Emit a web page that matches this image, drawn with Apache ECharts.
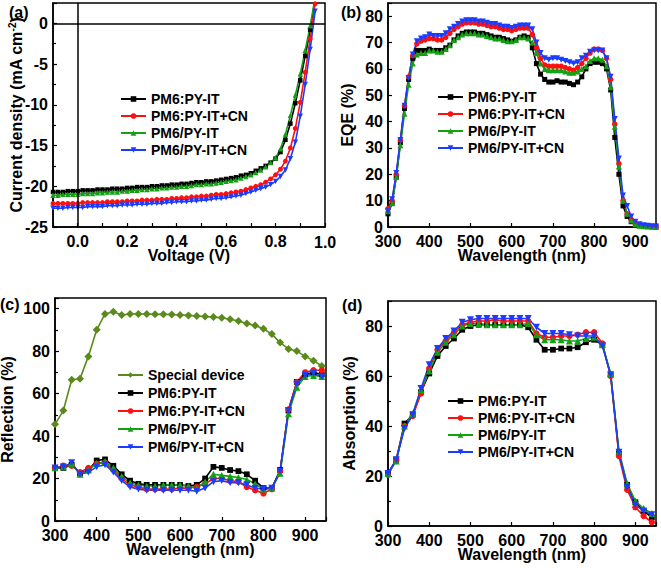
<!DOCTYPE html>
<html><head><meta charset="utf-8">
<script src="https://cdn.jsdelivr.net/npm/echarts@6/dist/echarts.min.js"></script>
<style>html,body{margin:0;padding:0;background:#fff;overflow:hidden}#c{width:661px;height:568px}</style>
</head><body><div id="c"></div>
<script>
// ---------- DATA ----------
const seriesNames = ['PM6:PY-IT', 'PM6:PY-IT+CN', 'PM6/PY-IT', 'PM6/PY-IT+CN'];
const specialName = 'Special device';

// (a) J-V
const jvTickLabels = [0, 0.2, 0.4, 0.6, 0.8, 1.0];
const jvTicks = [-0.1, 0, 0.1, 0.2, 0.3, 0.4, 0.5, 0.6, 0.7, 0.8, 0.9, 1.0];
const jvVoltage = [-0.1,-0.08,-0.06,-0.04,-0.02,0,0.02,0.04,0.06,0.08,0.1,0.12,0.14,0.16,0.18,0.2,0.22,0.24,0.26,0.28,0.3,0.32,0.34,0.36,0.38,0.4,0.42,0.44,0.46,0.48,0.5,0.52,0.54,0.56,0.58,0.6,0.62,0.64,0.66,0.68,0.7,0.72,0.74,0.76,0.78,0.8,0.82,0.84,0.86,0.88,0.9,0.92,0.94,0.96];
const jvBlack = [-20.7,-20.7,-20.7,-20.6,-20.6,-20.6,-20.5,-20.5,-20.5,-20.4,-20.4,-20.4,-20.3,-20.3,-20.3,-20.2,-20.2,-20.1,-20.1,-20.1,-20.0,-20.0,-19.9,-19.9,-19.8,-19.8,-19.7,-19.7,-19.6,-19.5,-19.5,-19.4,-19.4,-19.3,-19.2,-19.1,-19.0,-18.9,-18.7,-18.6,-18.4,-18.1,-17.8,-17.5,-17.1,-16.6,-15.8,-14.3,-12.3,-9.8,-7.0,-4.0,-0.8,2.7];
const jvRed = [-22.1,-22.1,-22.1,-22.1,-22.1,-22.1,-22.0,-22.0,-22.0,-22.0,-22.0,-21.9,-21.9,-21.9,-21.9,-21.8,-21.8,-21.8,-21.7,-21.7,-21.7,-21.6,-21.6,-21.6,-21.5,-21.5,-21.4,-21.4,-21.3,-21.3,-21.2,-21.2,-21.1,-21.0,-21.0,-20.9,-20.8,-20.7,-20.6,-20.4,-20.2,-20.0,-19.8,-19.5,-19.1,-18.6,-17.9,-16.9,-15.3,-12.9,-9.7,-6.0,-1.9,2.4];
const jvGreen = [-21.1,-21.1,-21.0,-21.0,-21.0,-21.0,-20.9,-20.9,-20.9,-20.8,-20.8,-20.7,-20.7,-20.7,-20.6,-20.6,-20.5,-20.5,-20.4,-20.4,-20.3,-20.3,-20.2,-20.2,-20.1,-20.1,-20.0,-20.0,-19.9,-19.8,-19.8,-19.7,-19.7,-19.6,-19.5,-19.4,-19.3,-19.2,-19.0,-18.8,-18.6,-18.3,-18.0,-17.6,-17.1,-16.5,-15.4,-13.6,-11.3,-8.8,-6.2,-3.3,-0.3,3.2];
const jvBlue = [-22.7,-22.7,-22.7,-22.6,-22.6,-22.6,-22.6,-22.5,-22.5,-22.5,-22.5,-22.4,-22.4,-22.4,-22.3,-22.3,-22.3,-22.2,-22.2,-22.2,-22.1,-22.1,-22.1,-22.0,-22.0,-21.9,-21.9,-21.9,-21.8,-21.8,-21.7,-21.7,-21.6,-21.5,-21.5,-21.4,-21.3,-21.2,-21.1,-20.9,-20.7,-20.5,-20.3,-20.1,-19.8,-19.4,-18.8,-18.0,-16.6,-14.6,-11.4,-7.5,-3.2,1.5];

// (b) EQE
const eqeWavelength = [300,310,320,330,340,350,360,370,380,390,400,410,420,430,440,450,460,470,480,490,500,510,520,530,540,550,560,570,580,590,600,610,620,630,640,650,660,670,680,690,700,710,720,730,740,750,760,770,780,790,800,810,820,830,840,850,860,870,880,890,900,910,920,930,940,950];
const eqeBlack = [5,9,19,32,45,56,64,67,67,67, 67.5,67,67,67,68,69,71,72.5,73.5,74, 74,74,73.5,73.5,73,72.5,72,72,71.5,71, 70.5,71,72,72.5,72,68,62,58,56,55, 55,55.5,55,55,54.5,54,55,57,60,62, 62.5,62.5,62,60,52,34,20,8,4,2, 1,0.5,0.3,0.2,0.1,0];
const eqeRed = [7,10,20,33,46,57,65,69.5,70.5,71, 71.5,71.5,71,71,72,73.5,75,76,77,77.5, 77.5,77.5,77,77,76.5,76,76,75.5,75,75, 74.5,75,75.5,75.5,75.5,73,68,64,61.5,61, 61,61,61,60.5,60,59.5,60.5,62,64,66, 67.5,67.5,67,64,56,39,24,10,5,2.5, 1.2,0.6,0.4,0.3,0.2,0.1];
const eqeGreen = [6,9,19,31,43,54,62,65.5,66,66, 67,67,66.5,66.5,67.5,69,71,72,73,73.5, 73.5,73.5,73,73,72.5,72,71.5,71.5,71,70.5, 70.5,71,72,72,71.5,70,66,62,60,59.5, 59.5,59.5,59.5,59,58.5,58.5,59,60,61,63, 64,64,63.5,61,53,38,23,10,5,2.5, 1,0.5,0.3,0.2,0.1,0];
const eqeBlue = [6,10.5,20.5,33,46,56.5,65.5,70.5,71.5,72, 73,72.5,72.5,72.5,73.5,75,76,77,78,78.5, 78.5,78.5,78,78,77.5,77,77,76.5,76,76, 75.5,76,76.5,76.5,76.5,75,70,66,64,63.5, 64,64,63.5,63,62.5,62,62.5,64,65,66.5, 67,67,67,64,57,41,26,12,8,4, 2,1,0.7,0.5,0.3,0.2];

// (c) Reflection
const refWavelength = [300,320,340,360,380,400,420,440,460,480,500,520,540,560,580,600,620,640,660,680,700,720,740,760,780,800,820,840,860,880,900,920,940];
const refSpecial = [45.5,52,66.5,67,77.5, 90,97.5,98.5,97,97.5, 97.5,97.5,97.3,97.3,97.2, 97,96.8,96.5,96.3,96, 95.7,95,94.2,93,92, 90.5,88,84,81,80, 77.5,75.5,73];
const refBlack = [25,25,26.5,22.5,24, 28.5,29,26,22,19, 17.5,17,17,17,17, 17,16.5,17,20,25.5, 25,24,23.5,22,19, 15.5,15.5,24,52,65.5, 69,70,69];
const refRed = [25,26,26,23,25, 27,27.5,24,20,17, 16,15,15,15,15, 15.5,15.5,16,17.5,20, 20,19,18.5,16,14.5, 13,15,23.5,52.5,65.5, 70,71,71];
const refGreen = [25,25.5,27,22,24, 27,28,25,21,18, 17,16.5,16.5,17,17, 17,16.5,15.5,18.5,22, 21.5,21,20.5,19.5,17.5, 15,15.5,22.5,50.5,63, 68,68.5,68];
const refBlue = [25,25.5,27.5,22,23, 25.5,26.5,23,19,16, 15,14.5,14.5,14.5,14.5, 14.5,14.5,14,15.5,18.5, 19,18,18,17,15.5, 15,15.5,23.5,52,64.5, 68.5,69.5,68];

// (d) Absorption
const absWavelength = [300,320,340,360,380,400,420,440,460,480,500,520,540,560,580,600,620,640,660,680,700,720,740,760,780,800,820,840,860,880,900,920,940];
const absBlack = [21,26.5,41,44.5,53.5, 61,68,72,75,78.5, 80,80.5,80.5,80.5,80.5, 80.5,80.5,79.5,74.5,70.5, 70.5,71,71,71.5,73.5, 74.5,72.5,60.5,29,16.5, 9.5,6,3.5];
const absRed = [20.5,26.5,40,44,53, 63,70.5,74,77.5,80.5, 81.5,82,82,82.5,82, 82,82,82,77,75.5, 75.5,76,76,76.5,77.5, 77.5,73,60,28,14.5, 7.5,4,1.5];
const absGreen = [21,26,40,45,54.5, 62,69.5,73.5,76.5,80, 81,81,80.5,80.5,80.5, 80.5,80.5,81,76.5,74.5, 74.5,74.5,74,74,75, 75.5,72.5,61,30,17, 10,7,5];
const absBlue = [21,26.5,39,44.5,55, 64.5,71,75,78,81.5, 82.5,83,83,83,83, 83,83,83,79.5,77, 77,77,76.5,76,76, 76,72,60.5,29.5,15.5, 8.5,6,4.5];

// ---------- STYLE ----------
const FONT = "'Liberation Sans', Arial, sans-serif";
const BOLD16 = "bold 16px 'Liberation Sans', Arial, sans-serif";
const styleOf = {
  'PM6:PY-IT':    { color: '#000000', symbol: 'rect', rot: 0, size: 5 },
  'PM6:PY-IT+CN': { color: '#ff1010', symbol: 'circle', rot: 0, size: 5.5 },
  'PM6/PY-IT':    { color: '#14a014', symbol: 'triangle', rot: 0, size: 6 },
  'PM6/PY-IT+CN': { color: '#1a3cff', symbol: 'triangle', rot: 180, size: 6 },
  'Special device': { color: '#5b8a1c', symbol: 'diamond', rot: 0, size: 8 }
};

function mkSeries(name, xs, ys, gi, sizeScale) {
  const s = styleOf[name];
  return {
    type: 'line', name: name, xAxisIndex: gi, yAxisIndex: gi,
    data: xs.map((x, i) => [x, ys[i]]),
    symbol: s.symbol, symbolRotate: s.rot, symbolSize: s.size * (sizeScale || 1),
    showAllSymbol: true, clip: true, animation: false,
    lineStyle: { color: s.color, width: 1.6 },
    itemStyle: { color: s.color, borderWidth: 0 },
    emphasis: { disabled: true }
  };
}

const grids = [
  { left: 53, top: 3, width: 272, height: 224 },
  { left: 388, top: 3, width: 268, height: 224 },
  { left: 55, top: 298, width: 271, height: 223 },
  { left: 388, top: 301, width: 268, height: 225 }
].map(g => Object.assign(g, { show: true, borderColor: '#000', borderWidth: 1.5, backgroundColor: 'transparent', outerBoundsMode: 'none' }));

const labelStyle = { color: '#000', fontFamily: FONT, fontWeight: 'bold', fontSize: 16 };
const nameStyle = { color: '#000', fontFamily: FONT, fontWeight: 'bold', fontSize: 16 };
const LABEL_MARGIN = 6;

function xAxisCfg(gi, min, max, interval, fmt, name, extra) {
  const ax = {
    type: 'value', gridIndex: gi, min: min, max: max, interval: interval,
    position: 'bottom',
    axisLine: { show: true, onZero: false, lineStyle: { color: '#000', width: 1.5 } },
    axisTick: { show: true, inside: true, length: 4, lineStyle: { color: '#000', width: 1.2 } },
    minorTick: { show: false },
    splitLine: { show: false },
    axisLabel: Object.assign({ margin: LABEL_MARGIN, formatter: fmt, hideOverlap: false }, labelStyle),
    name: name, nameLocation: 'middle', nameGap: 20, nameMoveOverlap: false,
    nameTextStyle: Object.assign({ verticalAlign: 'top' }, nameStyle)
  };
  if (extra) {
    ax.axisLabel.customValues = extra.labels;
    ax.axisTick.customValues = extra.ticks;
  }
  return ax;
}
function yAxisCfg(gi, min, max, interval, fmt, name, nameGap, minorSplit, rich) {
  const nts = Object.assign({}, nameStyle);
  if (rich) nts.rich = rich;
  return {
    type: 'value', gridIndex: gi, min: min, max: max, interval: interval,
    position: 'left',
    axisLine: { show: true, onZero: false, lineStyle: { color: '#000', width: 1.5 } },
    axisTick: { show: true, inside: true, length: 4, lineStyle: { color: '#000', width: 1.2 } },
    minorTick: { show: !!minorSplit, splitNumber: minorSplit || 5, length: 3, lineStyle: { color: '#000', width: 1.2 } },
    splitLine: { show: false },
    axisLabel: Object.assign({ margin: 5, formatter: fmt }, labelStyle),
    name: name, nameLocation: 'middle', nameGap: nameGap, nameRotate: 90, nameMoveOverlap: false,
    nameTextStyle: nts
  };
}

const fmtV = v => Number(v).toFixed(1);
const fmtMult = m => (v => (Math.abs(v % m) < 1e-9 ? String(v) : ''));
const fmtWL = v => (v % 100 === 0 ? String(v) : '');

const JV_MIN = -0.1, JV_MAX = 1.0, J_MIN = -25, J_MAX = 2.5;
const xAxes = [
  xAxisCfg(0, JV_MIN, JV_MAX, 0.1, fmtV, 'Voltage (V)', { labels: jvTickLabels.filter(v => v < JV_MAX), ticks: jvTicks }),
  xAxisCfg(1, 300, 950, 100, fmtWL, 'Wavelength (nm)'),
  xAxisCfg(2, 300, 950, 100, fmtWL, 'Wavelength (nm)'),
  xAxisCfg(3, 300, 950, 100, fmtWL, 'Wavelength (nm)')
];
const yAxes = [
  yAxisCfg(0, J_MIN, J_MAX, 5, fmtMult(5), 'Current density (mA cm{sup|-2})', 28, 2,
    { sup: { fontSize: 10, fontWeight: 'bold', fontFamily: FONT, color: '#000', verticalAlign: 'top', padding: [0, 0, 8, 0] } }),
  yAxisCfg(1, 0, 85, 10, fmtMult(10), 'EQE (%)', 33, 0),
  yAxisCfg(2, 0, 105, 20, fmtMult(20), 'Reflection (%)', 40, 2),
  yAxisCfg(3, 0, 90, 20, fmtMult(20), 'Absorption (%)', 31, 2)
];

const series = [];
const jvSets = [jvBlack, jvRed, jvGreen, jvBlue];
const eqeSets = [eqeBlack, eqeRed, eqeGreen, eqeBlue];
const refSets = [refBlack, refRed, refGreen, refBlue];
const absSets = [absBlack, absRed, absGreen, absBlue];

seriesNames.forEach((n, i) => series.push(mkSeries(n, jvVoltage, jvSets[i], 0, 0.9)));
// crosshair at V=0 and J=0
series[0].markLine = {
  silent: true, symbol: ['none', 'none'], animation: false,
  label: { show: false },
  lineStyle: { color: '#000', width: 1.5, type: 'solid' },
  data: [{ xAxis: 0 }, { yAxis: 0 }]
};
seriesNames.forEach((n, i) => series.push(mkSeries(n, eqeWavelength, eqeSets[i], 1)));
series.push(mkSeries(specialName, refWavelength, refSpecial, 2));
seriesNames.forEach((n, i) => series.push(mkSeries(n, refWavelength, refSets[i], 2, 1.15)));
seriesNames.forEach((n, i) => series.push(mkSeries(n, absWavelength, absSets[i], 3, 1.15)));

function legendCfg(names, left, top, gap) {
  return {
    data: names, left: left, top: top, orient: 'vertical',
    itemWidth: 25, itemHeight: 7, itemGap: gap, padding: 0,
    selectedMode: false,
    textStyle: { color: '#000', fontFamily: FONT, fontWeight: 'bold', fontSize: 14 }
  };
}

const panelLabel = (id, t, x, y) => ({
  id: id, type: 'text', left: x, top: y, z: 100,
  style: { text: t, fill: '#000', font: BOLD16 }
});

// end-of-axis tick label of panel (a): centred on the right end of its axis
const endLabelText = fmtV(jvTickLabels[jvTickLabels.length - 1]);
const gA = grids[0];

const option = {
  animation: false,
  backgroundColor: '#fff',
  grid: grids,
  xAxis: xAxes,
  yAxis: yAxes,
  legend: [
    legendCfg(seriesNames, 120, 92, 3),
    legendCfg(seriesNames, 437, 90, 3),
    legendCfg([specialName].concat(seriesNames), 117, 368, 4),
    legendCfg(seriesNames, 447, 394, 3)
  ],
  graphic: [
    panelLabel('pa', '(a)', 9, 4),
    panelLabel('pb', '(b)', 341, 4),
    panelLabel('pc', '(c)', 0, 296),
    panelLabel('pd', '(d)', 342, 297),
    panelLabel('jvEnd', endLabelText, gA.left + gA.width - 11, gA.top + gA.height + LABEL_MARGIN + 1)
  ],
  series: series
};

const chart = echarts.init(document.getElementById('c'), null, { renderer: 'svg' });
chart.setOption(option);
</script>
</body></html>
